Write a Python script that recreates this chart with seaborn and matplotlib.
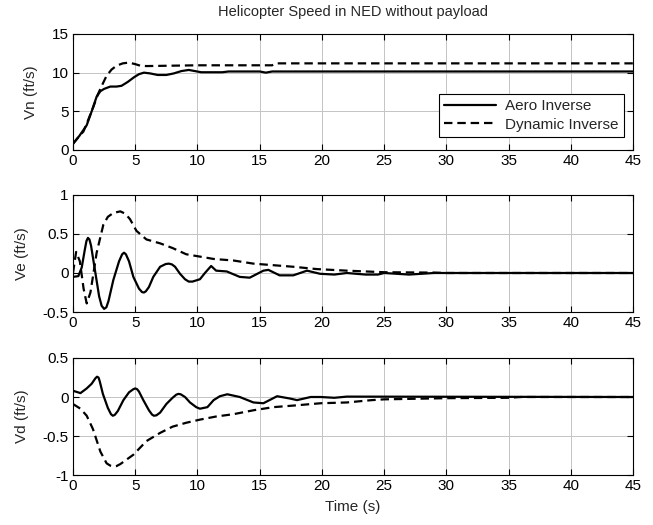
import matplotlib
matplotlib.use("Agg")
import matplotlib.pyplot as plt
import seaborn as sns
import pandas as pd

# North velocity
vn_aero_t = [0, 0.5, 1.1, 1.5, 1.9, 2.2, 2.5, 3.0, 3.5, 3.9, 4.4, 4.9, 5.3, 5.7, 6.2, 6.8, 7.5,
             8.1, 8.7, 9.3, 9.8, 10.3, 12.0, 12.5, 15.0, 15.5, 16.0, 20.0, 45.0]
vn_aero = [0.8, 1.8, 3.2, 5.0, 6.9, 7.6, 7.9, 8.2, 8.2, 8.3, 8.8, 9.4, 9.8, 10.0, 9.9, 9.7, 9.7,
           9.9, 10.2, 10.35, 10.2, 10.05, 10.05, 10.15, 10.15, 10.0, 10.15, 10.15, 10.15]
vn_dyn_t = [0, 0.4, 0.84, 1.2, 1.64, 2.0, 2.4, 2.7, 3.1, 3.5, 4.0, 4.5, 5.0, 5.4, 5.9, 10.0,
            16.0, 16.3, 45.0]
vn_dyn = [0.8, 1.6, 2.4, 3.8, 5.6, 7.2, 8.6, 9.6, 10.4, 10.9, 11.2, 11.3, 11.1, 10.9, 10.85,
          10.95, 10.95, 11.2, 11.2]

# East velocity
ve_aero_t = [0, 0.43, 0.7, 0.95, 1.08, 1.2, 1.32, 1.45, 1.77, 2.1, 2.3, 2.5, 2.68, 2.85, 3.24,
             3.7, 3.95, 4.1, 4.25, 4.5, 4.85, 5.3, 5.55, 5.7, 5.85, 6.1, 6.45, 7.0, 7.45, 7.7,
             7.95, 8.2, 8.6, 9.0, 9.3, 9.6, 10.2, 10.6, 11.1, 11.5, 12.35, 13.4, 14.2, 15.3,
             15.7, 16.6, 17.7, 18.8, 19.85, 21, 22, 23.5, 24.5, 25, 27, 28, 29, 45]
ve_aero = [-0.05, -0.04, 0.07, 0.3, 0.41, 0.45, 0.43, 0.35, 0.03, -0.3, -0.42, -0.46, -0.44,
           -0.36, -0.09, 0.15, 0.24, 0.26, 0.24, 0.15, -0.05, -0.2, -0.245, -0.25, -0.235, -0.18,
           -0.05, 0.08, 0.115, 0.12, 0.11, 0.08, -0.01, -0.08, -0.11, -0.11, -0.08, 0.0, 0.09,
           0.03, 0.02, -0.05, -0.06, 0.03, 0.04, -0.03, -0.03, 0.03, -0.01, -0.02, 0.0, -0.02,
           -0.02, 0.0, -0.02, -0.01, 0.0, 0.0]
ve_dyn_t = [0, 0.25, 0.55, 0.85, 1.1, 1.4, 1.9, 2.44, 2.8, 3.24, 3.8, 4.2, 4.58, 5.1, 5.9, 7,
            8, 9.1, 10.2, 11.3, 12.9, 14.5, 16.1, 17.7, 19.6, 22, 25, 29, 30, 45]
ve_dyn = [0.0, 0.27, 0.15, -0.2, -0.39, -0.25, 0.26, 0.62, 0.72, 0.77, 0.79, 0.76, 0.69, 0.54,
          0.43, 0.38, 0.32, 0.24, 0.21, 0.18, 0.16, 0.12, 0.1, 0.08, 0.05, 0.03, 0.01, 0.005,
          0.0, 0.0]

# Down velocity
vd_aero_t = [0, 0.6, 1.1, 1.5, 1.8, 1.93, 2.05, 2.15, 2.4, 2.8, 3.05, 3.2, 3.35, 3.6, 4.05,
             4.5, 4.85, 5.0, 5.15, 5.3, 5.65, 6.1, 6.35, 6.5, 6.7, 7.0, 7.5, 8.0, 8.3, 8.47,
             8.65, 9.0, 9.4, 9.9, 10.2, 10.8, 11.3, 11.8, 12.4, 13.4, 14.5, 15.3, 16.4, 17.45,
             18, 19.1, 19.9, 21, 22, 45]
vd_aero = [0.08, 0.05, 0.11, 0.17, 0.24, 0.26, 0.25, 0.2, 0.04, -0.14, -0.22, -0.24, -0.23,
           -0.18, -0.04, 0.06, 0.1, 0.11, 0.1, 0.07, -0.04, -0.17, -0.225, -0.24, -0.235, -0.2,
           -0.09, -0.01, 0.03, 0.04, 0.035, 0.0, -0.07, -0.13, -0.15, -0.13, -0.04, 0.01,
           0.035, 0.0, -0.07, -0.08, 0.01, -0.02, -0.04, 0.0, 0.0, -0.01, 0.005, 0.0]
vd_dyn_t = [0, 0.6, 1.1, 1.6, 2.2, 2.7, 3.0, 3.24, 3.5, 3.8, 4.85, 5.9, 7, 8, 9.1, 10.2, 11.5,
            12.9, 14.5, 16.1, 17.7, 19.9, 22, 24, 25, 30, 35, 36, 45]
vd_dyn = [-0.09, -0.15, -0.24, -0.41, -0.70, -0.85, -0.88, -0.89, -0.885, -0.86, -0.74,
          -0.565, -0.46, -0.38, -0.33, -0.29, -0.25, -0.22, -0.17, -0.13, -0.11, -0.08, -0.07,
          -0.04, -0.03, -0.015, -0.01, 0.0, 0.0]

series_names = ["Aero Inverse", "Dynamic Inverse"]
x_ticks = [0, 5, 10, 15, 20, 25, 30, 35, 40, 45]
panels = [
    ("Vn (ft/s)", (vn_aero_t, vn_aero), (vn_dyn_t, vn_dyn), (0, 15), [0, 5, 10, 15], ["0", "5", "10", "15"]),
    ("Ve (ft/s)", (ve_aero_t, ve_aero), (ve_dyn_t, ve_dyn), (-0.5, 1), [-0.5, 0, 0.5, 1], ["-0.5", "0", "0.5", "1"]),
    ("Vd (ft/s)", (vd_aero_t, vd_aero), (vd_dyn_t, vd_dyn), (-1, 0.5), [-1, -0.5, 0, 0.5], ["-1", "-0.5", "0", "0.5"]),
]

sns.set_theme(style="ticks")
plt.rcParams["font.family"] = ["Liberation Sans", "DejaVu Sans"]
plt.rcParams["font.size"] = 11

fig = plt.figure(figsize=(6.53, 5.25), dpi=100)
fig.patch.set_facecolor("white")

axes_rects = [
    [0.1118, 0.7143, 0.8576, 0.2210],
    [0.1118, 0.4057, 0.8576, 0.2229],
    [0.1118, 0.0952, 0.8576, 0.2229],
]

dash = (0, (3.8, 2.2))
for rect, (ylab, aero, dyn, ylim, yt, ytl) in zip(axes_rects, panels):
    ax = fig.add_axes(rect)
    df_a = pd.DataFrame({"t": aero[0], "v": aero[1]})
    df_d = pd.DataFrame({"t": dyn[0], "v": dyn[1]})
    sns.lineplot(data=df_a, x="t", y="v", ax=ax, color="black", lw=1.6,
                 estimator=None, sort=False, label=series_names[0])
    sns.lineplot(data=df_d, x="t", y="v", ax=ax, color="black", lw=1.6, linestyle=dash,
                 estimator=None, sort=False, label=series_names[1])
    ax.set_xlim(0, 45)
    ax.set_ylim(*ylim)
    ax.set_xticks(x_ticks)
    ax.set_xticklabels([str(v) for v in x_ticks])
    ax.set_yticks(yt)
    ax.set_yticklabels(ytl)
    ax.grid(True, color="#c4c4c4", lw=0.7, ls="-")
    ax.set_axisbelow(True)
    ax.tick_params(direction="in", top=True, right=True, length=4, width=0.8,
                   labelsize=11, pad=3, colors="black")
    for s in ax.spines.values():
        s.set_color("black")
        s.set_linewidth(0.8)
    ax.set_ylabel(ylab, fontsize=11, labelpad=10)
    ax.set_xlabel("")
    if ylab.startswith("Vn"):
        ax.set_title("Helicopter Speed in NED without payload", fontsize=10.5, pad=13)
        leg = ax.legend(loc="lower right", bbox_to_anchor=(0.984, 0.112), borderaxespad=0,
                        frameon=True, fancybox=False, framealpha=1, edgecolor="black",
                        fontsize=11, handlelength=3.4, borderpad=0.35, labelspacing=0.3,
                        handletextpad=0.6)
        leg.get_frame().set_linewidth(0.8)
    else:
        ax.get_legend().remove()
    if ylab.startswith("Vd"):
        ax.set_xlabel("Time (s)", fontsize=11, labelpad=5)

fig.savefig("out.png", dpi=100, facecolor="white")
